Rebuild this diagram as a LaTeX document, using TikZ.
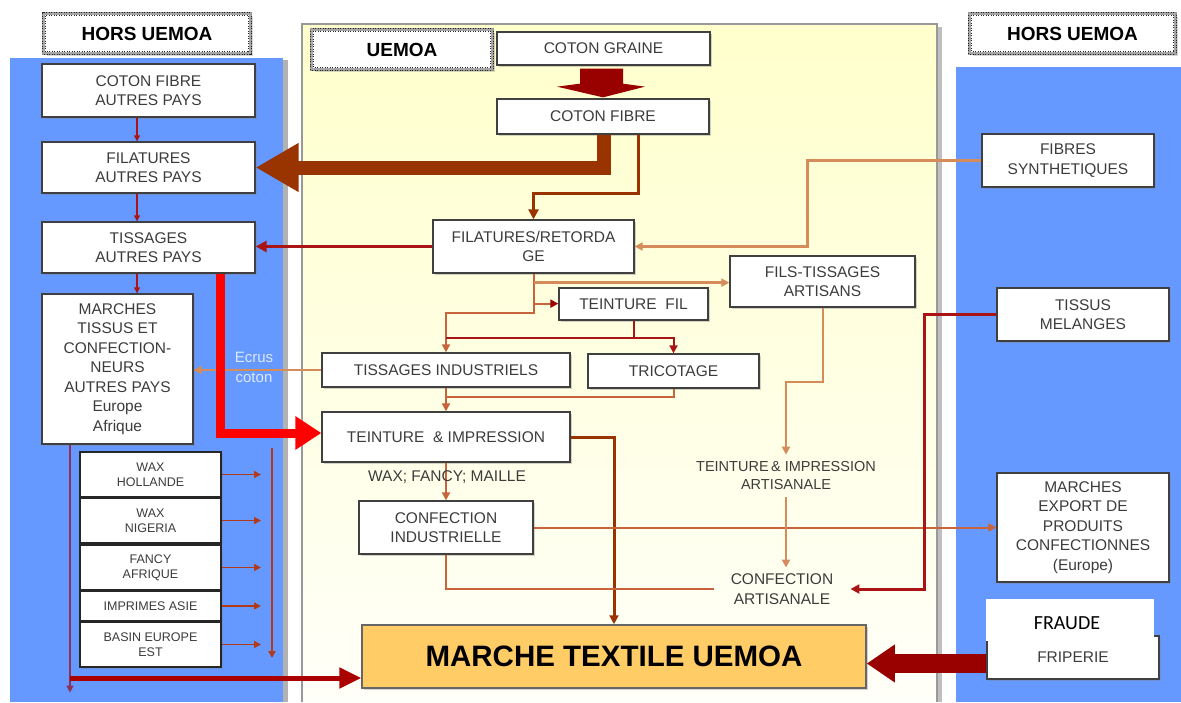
\documentclass[tikz,border=0pt]{standalone}
\usepackage{fontspec}
\setmainfont{Liberation Sans}
\newfontfamily\carl{Carlito}
\usetikzlibrary{arrows.meta,calc,shadows}
\definecolor{pblue}{RGB}{102,153,255}
\definecolor{pyel}{RGB}{255,255,204}
\definecolor{dred}{RGB}{153,0,0}
\definecolor{dred2}{RGB}{170,0,0}
\definecolor{brn}{RGB}{153,51,0}
\definecolor{tan1}{RGB}{214,140,90}
\definecolor{tan2}{RGB}{200,100,60}
\definecolor{rline}{RGB}{170,20,20}
\definecolor{orng}{RGB}{255,204,102}
\definecolor{txt}{RGB}{60,60,60}
\definecolor{waxc}{RGB}{176,58,26}
\definecolor{purp}{RGB}{140,50,90}
\definecolor{ecr}{RGB}{220,232,255}
\begin{document}
\begin{tikzpicture}[x=1pt,y=-1pt,
  box/.style={draw=black!75, line width=1.3pt, fill=white, text=txt, align=center,
    font=\fontsize{15.5}{19.5}\selectfont, inner sep=0pt,
    drop shadow={shadow xshift=2pt, shadow yshift=-2pt, opacity=0.35}},
  waxbox/.style={box, draw=black!85, line width=2pt, font=\fontsize{12.5}{15}\selectfont},
  lab/.style={draw=black!85, line width=4.5pt, dash pattern=on 1pt off 1.5pt, fill=white,
    preaction={draw=black!40, line width=4.5pt, solid},
    postaction={draw=black!35, line width=1.8pt, solid},
    text=black, font=\fontsize{19}{22}\selectfont\bfseries, inner sep=0pt,
    drop shadow={shadow xshift=2.5pt, shadow yshift=-2.5pt, opacity=0.3}},
  plain/.style={text=txt, align=center, font=\fontsize{15.5}{19.5}\selectfont, inner sep=0pt},
  sz/.style 2 args={minimum width=#1pt, minimum height=#2pt},
  arr/.style={-{Triangle[length=#1pt,width=#1pt]}}, arr/.default=8
]
\useasboundingbox (0,0) rectangle (1181,702);
% panels
\fill[black!30] (283,60) rectangle (288,702);
\fill[pblue] (10,58) rectangle (283,702);
\fill[black!25] (937,27) rectangle (942,702);
\shade[top color=pyel, bottom color=pyel!12!white] (302,24) rectangle (937,702);
\draw[black!40, line width=1.2pt] (302,702) -- (302,24) -- (937,24) -- (937,702);
\fill[pblue] (956,67) rectangle (1181,702);

% labels
\node[lab, sz={206}{39}] (hl) at (147,33.5) {HORS UEMOA};
\node[lab, sz={205}{39}] (hr) at (1072.5,33.5) {HORS UEMOA};
\node[lab, sz={180}{39}] (ue) at (402,49.5) {UEMOA};

% left column
\node[box, sz={213}{53}] (cfa) at (148.5,90.5) {COTON FIBRE\\AUTRES PAYS};
\node[box, sz={213}{51}] (fap) at (148.5,167.5) {FILATURES\\AUTRES PAYS};
\node[box, sz={213}{51}] (tap) at (148.5,247.5) {TISSAGES\\AUTRES PAYS};
\node[box, sz={151}{150}] (mar) at (117.5,369) {MARCHES\\TISSUS ET\\CONFECTION-\\NEURS\\AUTRES PAYS\\Europe\\Afrique};
\node[waxbox, sz={141}{45}] (wh) at (150.5,474.5) {WAX\\HOLLANDE};
\node[waxbox, sz={141}{45}] (wn) at (150.5,520.5) {WAX\\NIGERIA};
\node[waxbox, sz={141}{45}] (fa) at (150.5,567.5) {FANCY\\AFRIQUE};
\node[waxbox, sz={141}{30}] (ia) at (150.5,606) {IMPRIMES ASIE};
\node[waxbox, sz={141}{45}] (be) at (150.5,644.5) {BASIN EUROPE\\EST};

% centre
\node[box, sz={213}{33}] (cg) at (603.5,48.5) {COTON GRAINE};
\node[box, sz={212}{35}] (cf) at (603,116.5) {COTON FIBRE};
\node[box, sz={201}{53}] (fr) at (533.5,246.5) {FILATURES/RETORDA\\GE};
\node[box, sz={149}{32}] (tf) at (633.5,304) {TEINTURE\ \ FIL};
\node[box, sz={185}{51}] (fta) at (822.5,281.5) {FILS-TISSAGES\\ARTISANS};
\node[box, sz={248}{34}] (ti) at (446,370) {TISSAGES INDUSTRIELS};
\node[box, sz={171}{34}] (tr) at (673.5,371) {TRICOTAGE};
\node[box, sz={248}{50}] (tei) at (446,437) {TEINTURE\ \ \& IMPRESSION};
\node[box, sz={174}{53}] (ci) at (446,527.5) {CONFECTION\\INDUSTRIELLE};
\node[box, fill=orng, draw=black!60, line width=1.5pt, text=black, sz={504}{63},
  font=\fontsize{29.5}{32}\selectfont\bfseries] (mt) at (614,656.5) {MARCHE TEXTILE UEMOA};
\node[plain, inner ysep=7pt, font=\fontsize{14.5}{18}\selectfont] (tia) at (786,476) {TEINTURE\,\& IMPRESSION\\ARTISANALE};
\node[plain, inner xsep=17pt, inner ysep=6pt] (ca) at (782,589) {CONFECTION\\ARTISANALE};

% right column
\node[box, sz={172}{53}] (fs) at (1068,160.5) {FIBRES\\SYNTHETIQUES};
\node[box, sz={172}{53}] (tm) at (1083,314.5) {TISSUS\\MELANGES};
\node[box, sz={172}{109}] (me) at (1083,527.5) {MARCHES\\EXPORT DE\\PRODUITS\\CONFECTIONNES\\(Europe)};
\node[box, sz={172}{43}] (fp) at (1073,657.5) {FRIPERIE};
\node[fill=white, inner sep=0pt, sz={168.5}{42}] (frb) at (1069.75,620) {};
\node[font=\carl\fontsize{20}{24}\selectfont, text=black, inner sep=0pt] (fra) at (1067,623) {FRAUDE};

% ---- connectors ----
% left column
\draw[rline, line width=1.3pt, arr=6] ([xshift=-11.5pt]cfa.south) -- ([xshift=-11.5pt]fap.north);
\draw[rline, line width=1.3pt, arr=6] ([xshift=-11.5pt]fap.south) -- ([xshift=-11.5pt]tap.north);
\draw[rline, line width=1.3pt, arr=6] ([xshift=-11.5pt]tap.south) -- ([xshift=-11.5pt]tap.south |- mar.north);
\foreach \b in {wh,wn,fa,ia,be}{
  \draw[waxc, line width=1.5pt, arr=7] (\b.east) -- ++(39,0);
}
\coordinate (vt) at (272,448);
\coordinate (vb) at (272,658);
\draw[waxc, line width=1.8pt, arr=7] (vt) -- (vb);
\draw[purp, line width=1.5pt, arr=7] ([xshift=-47.5pt]mar.south) -- ++(0,248);
\coordinate (lb) at (70,678);
\draw[dred2, line width=5pt, -{Triangle[length=22pt,width=20pt]}] (lb) -- (lb -| mt.west);

% cotton flows
\fill[dred] ($(cg.south)+(-23.5,3)$) -- ++(43,0) -- ++(0,15)
  .. controls ($(cg.south)+(30,20)$) .. ($(cg.south)+(41.5,21)$)
  -- ([yshift=1pt]cf.north) -- ($(cg.south)+(-46.5,21)$)
  .. controls ($(cg.south)+(-35,20)$) .. ($(cg.south)+(-23.5,18)$) -- cycle;
\draw[brn, line width=14pt, -{Triangle[length=43pt,width=46pt]}] ([xshift=1pt]cf.south) |- (fap.east);
\draw[brn, line width=3pt, arr=10] ([xshift=35pt]cf.south) -- ++(0,59) -| (fr.north);
\draw[rline, line width=3.5pt, arr=11] (fr.west) -- (fr.west -| tap.east);
\draw[tan1, line width=2.5pt, arr=8] (fs.west) -- ++(-174,0) |- (fr.east);

% spinning fan-out
\draw[tan2, line width=2pt, arr=8] (fr.south) -- ++(0,39) -| (ti.north);
\draw[tan1, line width=2.5pt, arr=8] ([yshift=-9pt]fr.south) -- ([yshift=-9pt]fr.south -| fta.west);
\draw[tan2, line width=2pt, -{Triangle[length=8pt,width=8pt,color=dred]}] ([yshift=-30pt]fr.south) -- ([yshift=-30pt]fr.south -| tf.west);
\draw[rline, line width=2pt] (tf.south) -- ++(0,17) coordinate (tfj);
\draw[rline, line width=2pt, arr=8] (ti.north |- tfj) -| (tr.north);
\draw[tan2, line width=2pt, arr=8] (ti.south) -- (tei.north);
\draw[tan2, line width=2pt] (tr.south) |- ($(ti.south)!0.4!(tei.north)$);
\draw[tan1, line width=2pt, arr=8] (ti.west) -- (ti.west -| mar.east);
\node[font=\fontsize{15}{20}\selectfont, text=ecr, align=center, inner sep=0pt] (ec) at (254,367) {Ecrus\\coton};
\draw[red, line width=9pt, -{Triangle[length=26pt,width=32pt]}] ([xshift=71.5pt]tap.south) |- ([yshift=4pt]tei.west);

% dyeing and making-up
\draw[brn, line width=3pt, arr=9] (tei.east) -| (mt.north);
\draw[tan2, line width=2pt, arr=8] (tei.south) -- (ci.north);
\node[plain] (wfm) at (447,477) {WAX; FANCY; MAILLE};
\draw[tan2, line width=2pt, arr=8] (ci.east) -- (ci.east -| me.west);
\draw[tan2, line width=2pt] (ci.south) |- (ca.west);
\draw[tan1, line width=2pt, arr=8] (fta.south) -- ++(0,74) -| (tia.north);
\draw[tan1, line width=2pt, arr=8] (tia.south) -- (tia.south |- ca.north);
\draw[rline, line width=3pt, arr=9] (tm.west) -- ++(-72,0) |- (ca.east);
\draw[dred, line width=19pt, -{Triangle[length=28pt,width=36pt]}] ([yshift=-6pt]fp.west) -- ([yshift=-6pt]fp.west -| mt.east);
\end{tikzpicture}
\end{document}
